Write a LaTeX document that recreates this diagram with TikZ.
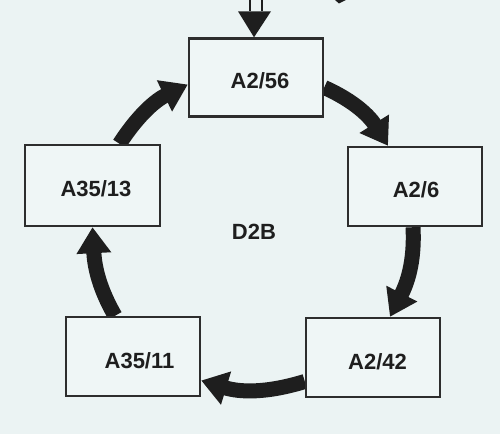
\documentclass[tikz,border=0pt]{standalone}
\usepackage{fontspec}
\setmainfont{Liberation Sans}
\usetikzlibrary{arrows.meta}
\definecolor{bg}{RGB}{235,243,243}
\definecolor{boxbg}{RGB}{239,246,246}
\definecolor{ink}{RGB}{30,30,30}
\definecolor{frame}{RGB}{45,45,45}
\pgfdeclarelayer{back}
\pgfdeclarelayer{mid}
\pgfsetlayers{back,mid,main}
\begin{document}
\begin{tikzpicture}[x=1pt,y=1pt,
  box/.style={draw=frame, line width=2.4pt, fill=boxbg, minimum width=134pt,
    minimum height=78pt, inner sep=0pt, text=ink,
    font=\fontsize{22}{26}\selectfont\bfseries, text height=23pt, text depth=0pt},
  lbl/.style={text=ink, font=\fontsize{22}{26}\selectfont\bfseries},
  flow/.style={draw=ink, line width=15pt, -{Triangle[length=26pt,width=33pt]}},
]
\begin{pgfonlayer}{back}
\fill[bg] (0,0) rectangle (500,434);
\end{pgfonlayer}
\useasboundingbox (0,0) rectangle (500,434);

\node[box] (a56) at (256,356.5) {\kern8pt A2/56};
\node[box, minimum height=79pt] (a6) at (415,247.5) {\kern2pt A2/6};
\node[box, minimum height=81pt, minimum width=135pt] (a13) at (92.5,248.5) {\kern7pt A35/13};
\node[box, minimum height=79pt] (a11) at (133,77.5) {\kern13pt A35/11};
\node[box, minimum height=79pt] (a42) at (373,76.5) {\kern9pt A2/42};
\node[lbl] (d2b) at (254,202) {D2B};

\begin{pgfonlayer}{mid}
\draw[flow] ([yshift=-10pt]a56.east) to[out=-24,in=122] ([xshift=-27pt]a6.north);
\draw[flow] ([xshift=-2pt]a6.south) to[out=-87,in=63] ([xshift=17pt]a42.north);
\draw[flow] ([yshift=-24pt]a42.west) to[out=197,in=-17] ([yshift=-24pt]a11.east);
\draw[flow] ([xshift=-18pt]a11.north) to[out=120,in=-87] (a13.south);
\draw[flow] ([xshift=27pt]a13.north) to[out=57,in=206] ([yshift=-7pt]a56.west);
\end{pgfonlayer}

\coordinate (src) at (256,440);
\draw[ink, line width=2pt, double=bg, double distance=10pt] (src) -- ([yshift=26pt]a56.north);
\fill[ink] ([xshift=-18pt,yshift=26pt]a56.north) -- ([xshift=15pt,yshift=26pt]a56.north) -- ([xshift=-2pt]a56.north) -- cycle;

\fill[ink] (335,434) -- (346,434) -- (339,430.5) -- cycle;
\end{tikzpicture}
\end{document}
